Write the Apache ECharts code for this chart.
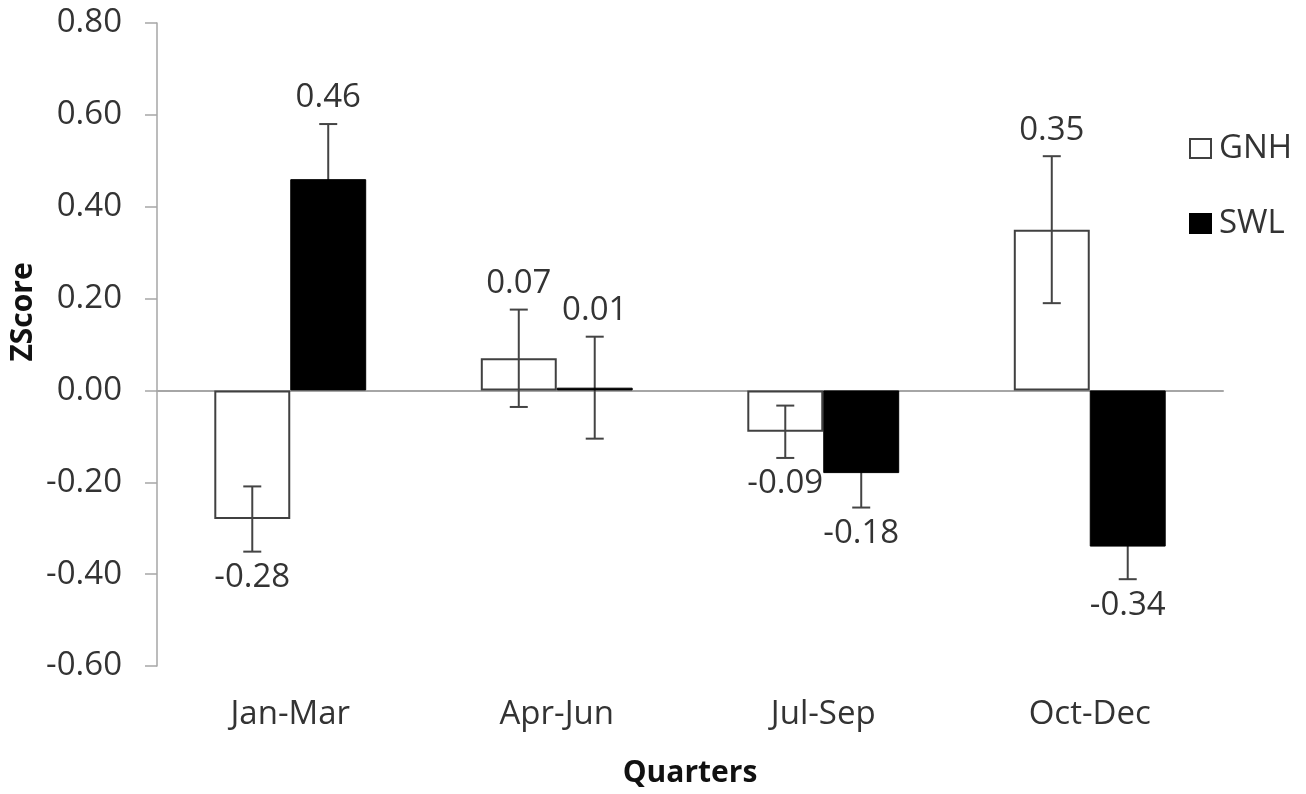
<!DOCTYPE html>
<html>
<head>
<meta charset="utf-8">
<script src="https://cdn.jsdelivr.net/npm/echarts@6/dist/echarts.min.js"></script>
<style>
html,body{margin:0;padding:0;background:#fff;}
#chart{width:1306px;height:794px;}
</style>
</head>
<body>
<div id="chart"></div>
<script>
const categories = ['Jan-Mar', 'Apr-Jun', 'Jul-Sep', 'Oct-Dec'];
const seriesNames = ['GNH', 'SWL'];
const gnhValues = [-0.28, 0.07, -0.09, 0.35];
const swlValues = [0.46, 0.006, -0.18, -0.34];
const gnhErrors = [0.071, 0.106, 0.057, 0.16];
const swlErrors = [0.12, 0.111, 0.075, 0.071];
const yTicks = [-0.6, -0.4, -0.2, 0, 0.2, 0.4, 0.6, 0.8];

const FONT = '"Open Sans", "Liberation Sans", sans-serif';
const TEXT = '#333333';
const AXIS = '#a6a6a6';
const ERR = '#444444';
const FS = 33;
const GAP = 0.43;

const chart = echarts.init(document.getElementById('chart'), null, {renderer: 'canvas'});

function errSeries(name, values, errors, sideSign, z) {
  return {
    type: 'custom',
    name: name + ' err',
    xAxisIndex: 0,
    z: z,
    silent: true,
    data: values.map((v, i) => [i, v, errors[i]]),
    renderItem: function (params, api) {
      const i = api.value(0), v = api.value(1), e = api.value(2);
      const band = api.size([1, 0])[0];
      const bw = band * (1 - GAP) / 2;
      const cx = api.coord([i, 0])[0] + sideSign * bw / 2;
      const yTop = api.coord([i, v + e])[1];
      const yBot = api.coord([i, v - e])[1];
      const cap = 9;
      const s = {stroke: ERR, lineWidth: 2};
      const endY = v >= 0 ? yTop : yBot;
      const ly = v >= 0 ? endY - 26 : endY + 26;
      return {
        type: 'group',
        children: [
          {type: 'line', shape: {x1: cx, y1: yTop, x2: cx, y2: yBot}, style: s},
          {type: 'line', shape: {x1: cx - cap, y1: yTop, x2: cx + cap, y2: yTop}, style: s},
          {type: 'line', shape: {x1: cx - cap, y1: yBot, x2: cx + cap, y2: yBot}, style: s},
          {type: 'text', x: cx, y: ly, style: {
            text: v.toFixed(2), fill: TEXT, font: FS + 'px ' + FONT,
            align: 'center', verticalAlign: 'middle'}}
        ]
      };
    }
  };
}

const option = {
  animation: false,
  backgroundColor: '#fff',
  grid: {left: 157, right: 83, top: 23, bottom: 128, containLabel: false},
  legend: {
    orient: 'vertical',
    left: 1184,
    top: 127,
    itemWidth: 21,
    itemHeight: 19,
    itemGap: 42,
    icon: 'rect',
    data: seriesNames,
    textStyle: {fontFamily: FONT, fontSize: FS, color: TEXT, padding: [0, 0, 0, 3]}
  },
  xAxis: [
    {
      type: 'category',
      data: categories,
      position: 'bottom',
      axisLine: {show: false, onZero: false},
      axisTick: {show: false},
      axisLabel: {fontFamily: FONT, fontSize: FS, color: TEXT, margin: 32}
    },
    {
      type: 'category',
      data: categories,
      position: 'bottom',
      axisLine: {show: true, onZero: true, lineStyle: {color: AXIS, width: 2}},
      axisTick: {show: false},
      axisLabel: {show: false}
    }
  ],
  yAxis: {
    type: 'value',
    min: -0.6,
    max: 0.8,
    interval: 0.2,
    axisLine: {show: true, lineStyle: {color: AXIS, width: 1.5}},
    axisTick: {show: true, length: 12, lineStyle: {color: AXIS, width: 1.5}},
    splitLine: {show: false},
    axisLabel: {
      fontFamily: FONT, fontSize: FS, color: TEXT, margin: 35,
      formatter: function (v) {
        const t = yTicks.find(x => Math.abs(x - v) < 1e-9);
        return (t === undefined ? v : t).toFixed(2);
      }
    }
  },
  series: [
    {
      name: 'GNH', type: 'bar', data: gnhValues, barGap: '0%', barCategoryGap: (GAP * 100) + '%',
      itemStyle: {color: '#ffffff', borderColor: '#404040', borderWidth: 2},
      z: 2
    },
    {
      name: 'SWL', type: 'bar', data: swlValues, barGap: '0%', barCategoryGap: (GAP * 100) + '%',
      itemStyle: {color: '#000000', borderColor: '#000000', borderWidth: 1},
      z: 2
    },
    errSeries('GNH', gnhValues, gnhErrors, -1, 5),
    errSeries('SWL', swlValues, swlErrors, 1, 1)
  ],
  graphic: [
    {type: 'text', x: 23, y: 312, rotation: Math.PI / 2,
      style: {text: 'ZScore', font: 'bold 30px ' + FONT, fill: '#111', align: 'center', verticalAlign: 'middle'}},
    {type: 'text', x: 690, y: 773,
      style: {text: 'Quarters', font: 'bold 30px ' + FONT, fill: '#111', align: 'center', verticalAlign: 'middle'}}
  ]
};
chart.setOption(option);
</script>
</body>
</html>
